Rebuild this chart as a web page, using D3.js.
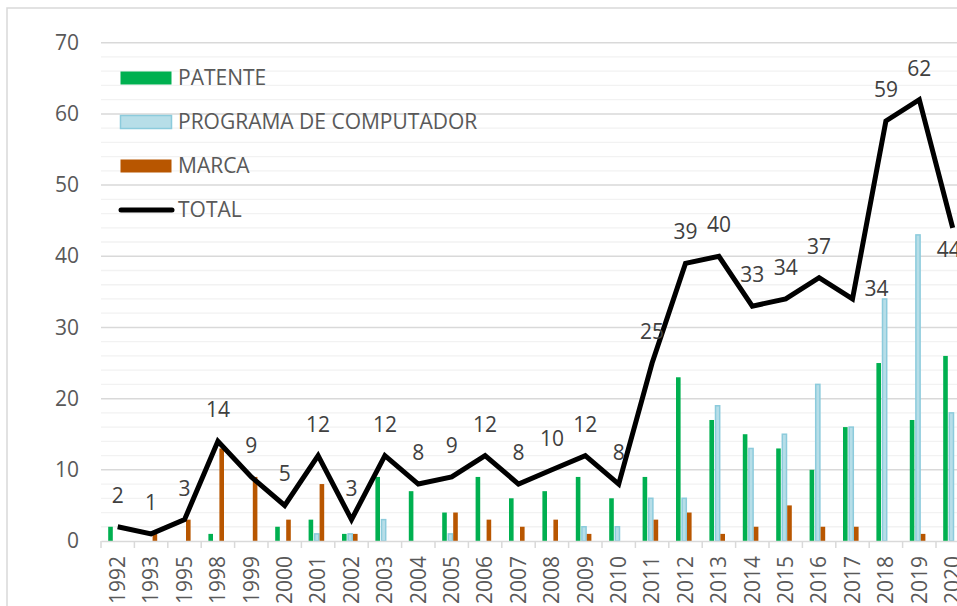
<!DOCTYPE html>
<html>
<head>
<meta charset="utf-8">
<script src="https://cdn.jsdelivr.net/npm/d3@7"></script>
<style>
  body { margin: 0; background: #fff; overflow: hidden; }
  svg { display: block; font-family: "Open Sans", sans-serif; }
</style>
</head>
<body>
<svg id="chart"></svg>
<script>
// values
var years = ["1992","1993","1995","1998","1999","2000","2001","2002","2003","2004","2005","2006","2007","2008","2009","2010","2011","2012","2013","2014","2015","2016","2017","2018","2019","2020"];
var patente  = [2,0,0,1,0,2,3,1,9,7,4,9,6,7,9,6,9,23,17,15,13,10,16,25,17,26];
var programa = [0,0,0,0,0,0,1,1,3,0,1,0,0,0,2,2,6,6,19,13,15,22,16,34,43,18];
var marca    = [0,1,3,13,9,3,8,1,0,0,4,3,2,3,1,0,3,4,1,2,5,2,2,0,1,0];
var total    = [2,1,3,14,9,5,12,3,12,8,9,12,8,10,12,8,25,39,40,33,34,37,34,59,62,44];
var yTicks = [0,10,20,30,40,50,60,70];
var seriesNames = ["PATENTE", "PROGRAMA DE COMPUTADOR", "MARCA"];

var width = 957, height = 606;
var fontSize = 21;
var svg = d3.select("#chart").attr("width", width).attr("height", height);

// outer chart border (right and bottom fall outside the picture)
svg.append("rect").attr("x", 7).attr("y", 8).attr("width", 1000).attr("height", 1000)
  .attr("fill", "none").attr("stroke", "#d9d9d9").attr("stroke-width", 1.5);

var x = d3.scaleBand().domain(years).range([101, 101 + 26 * 33.4]);
var y = d3.scaleLinear().domain([0, 70]).range([541, 42.7]);

// minor gridlines
svg.append("g").selectAll("line")
  .data(d3.range(2, 70, 2).filter(d => d % 10 != 0))
  .enter().append("line")
    .attr("x1", 101).attr("x2", width)
    .attr("y1", d => y(d)).attr("y2", d => y(d))
    .attr("stroke", "#f2f2f2").attr("stroke-width", 1.3);

// major gridlines
svg.append("g").selectAll("line")
  .data(yTicks.slice(1))
  .enter().append("line")
    .attr("x1", 101).attr("x2", width)
    .attr("y1", d => y(d)).attr("y2", d => y(d))
    .attr("stroke", "#d9d9d9").attr("stroke-width", 1.5);

// y axis labels
var yAxis = svg.append("g").attr("transform", "translate(101,0)")
  .call(d3.axisLeft(y).tickValues(yTicks).tickSize(0).tickPadding(22));
yAxis.select(".domain").remove();
yAxis.selectAll("text").attr("font-size", fontSize).attr("fill", "#595959")
  .attr("font-family", "Open Sans");

// bars
var x1 = d3.scaleBand().domain(seriesNames).range([-9.5, 7]);
var seriesData = [patente, programa, marca];
var fills = ["#00b050", "#b7dee8", "#b85600"];
var strokes = ["none", "#8ccbdc", "none"];

seriesData.forEach(function(vals, s) {
  var bw = s == 1 ? 4.2 : 4.6;
  svg.append("g").selectAll("rect")
    .data(vals.map((v, i) => ({ year: years[i], v: v })).filter(d => d.v > 0))
    .enter().append("rect")
      .attr("x", d => x(d.year) + x.bandwidth() / 2 + x1(seriesNames[s]) + (s == 1 ? 0.6 : 0))
      .attr("width", bw)
      .attr("y", d => y(d.v))
      .attr("height", d => y(0) - y(d.v))
      .attr("fill", fills[s])
      .attr("stroke", strokes[s])
      .attr("stroke-width", s == 1 ? 1.5 : 0);
});

// x axis
var xAxis = svg.append("g").attr("transform", "translate(0," + y(0) + ")")
  .call(d3.axisBottom(x).tickSize(0));
xAxis.select(".domain").attr("stroke", "#d9d9d9").attr("stroke-width", 1.5);
xAxis.selectAll(".tick line").remove();
xAxis.selectAll(".tick text")
  .attr("transform", "rotate(-90)")
  .attr("text-anchor", "end")
  .attr("x", -15).attr("y", 0).attr("dy", "0.35em")
  .attr("font-size", fontSize).attr("fill", "#595959").attr("font-family", "Open Sans");
// tick marks between categories
svg.append("g").selectAll("line")
  .data(years)
  .enter().append("line")
    .attr("x1", d => x(d)).attr("x2", d => x(d))
    .attr("y1", y(0)).attr("y2", y(0) + 7)
    .attr("stroke", "#d9d9d9").attr("stroke-width", 1.5);

// total line
var line = d3.line().x((d, i) => x(years[i]) + x.bandwidth() / 2).y(d => y(d));
svg.append("path").datum(total)
  .attr("d", line)
  .attr("fill", "none").attr("stroke", "#000").attr("stroke-width", 5)
  .attr("stroke-linejoin", "miter");

// data labels (Excel moved two of them)
var labelPlace = { "2017": "right", "2020": "below" };
svg.append("g").selectAll("text")
  .data(total)
  .enter().append("text")
    .attr("x", (d, i) => {
      var cx = x(years[i]) + x.bandwidth() / 2;
      var p = labelPlace[years[i]];
      return p == "right" ? cx + 24 : p == "below" ? cx - 4 : cx;
    })
    .attr("y", (d, i) => {
      var p = labelPlace[years[i]];
      return p == "right" ? y(d) - 3 : p == "below" ? y(d) + 29 : y(d) - 24;
    })
    .attr("text-anchor", "middle")
    .attr("font-size", fontSize).attr("fill", "#404040")
    .text(d => d);

// legend
var legend = svg.append("g");
var rowY = [78, 122, 166, 210];
seriesNames.forEach(function(name, s) {
  legend.append("rect")
    .attr("x", 120.5).attr("y", rowY[s] - 6.5).attr("width", 51).attr("height", 13)
    .attr("fill", fills[s]).attr("stroke", strokes[s]).attr("stroke-width", s == 1 ? 1.5 : 0);
  legend.append("text").attr("x", 178).attr("y", rowY[s]).attr("dy", "0.35em")
    .attr("font-size", fontSize).attr("fill", "#595959").text(name);
});
legend.append("line")
  .attr("x1", 121).attr("x2", 172).attr("y1", rowY[3]).attr("y2", rowY[3])
  .attr("stroke", "#000").attr("stroke-width", 5).attr("stroke-linecap", "round");
legend.append("text").attr("x", 178).attr("y", rowY[3]).attr("dy", "0.35em")
  .attr("font-size", fontSize).attr("fill", "#595959").text("TOTAL");
</script>
</body>
</html>
